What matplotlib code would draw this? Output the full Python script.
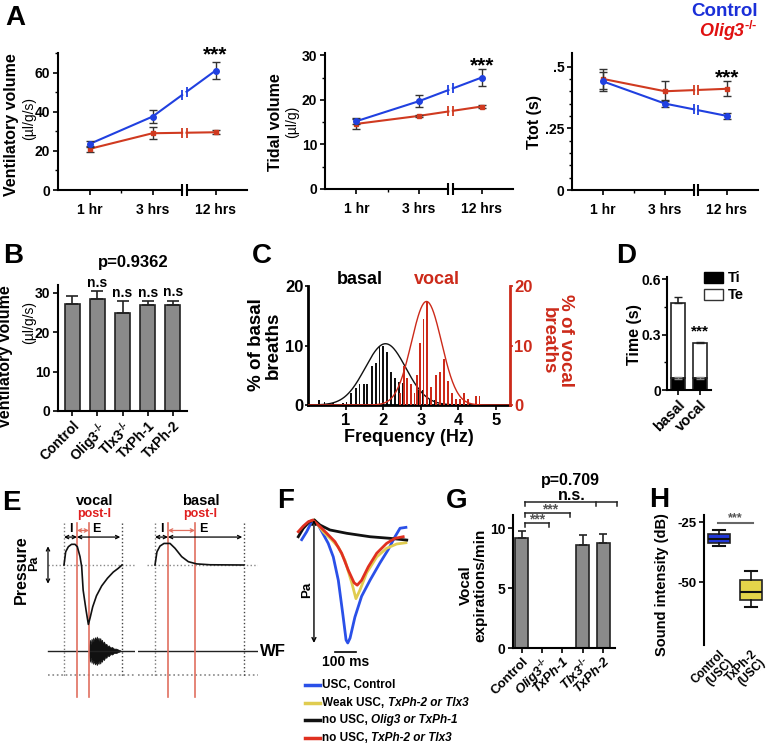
import matplotlib
matplotlib.use("Agg")
import matplotlib.pyplot as plt
import numpy as np
from matplotlib.patches import Patch

plt.rcParams['font.family'] = ['Liberation Sans', 'DejaVu Sans']
plt.rcParams['font.weight'] = 'bold'
plt.rcParams['axes.labelweight'] = 'bold'
plt.rcParams['mathtext.fontset'] = 'custom'
plt.rcParams['mathtext.rm'] = 'Liberation Sans:bold'
plt.rcParams['mathtext.it'] = 'Liberation Sans:italic:bold'
plt.rcParams['mathtext.bf'] = 'Liberation Sans:bold'
plt.rcParams['axes.linewidth'] = 1.5
plt.rcParams['xtick.major.width'] = 1.2
plt.rcParams['ytick.major.width'] = 1.2
plt.rcParams['ytick.minor.width'] = 1.0
plt.rcParams['xtick.minor.width'] = 1.0
plt.rcParams['xtick.major.size'] = 3.5
plt.rcParams['ytick.major.size'] = 3.5
plt.rcParams['ytick.minor.size'] = 2.5
plt.rcParams['ytick.major.pad'] = 2
plt.rcParams['xtick.major.pad'] = 2

BLUE = '#2040e0'
RED = '#d03a20'
KO = "$^{‐/‐}$"   # superscript -/- with plain hyphens

# ---- A: time course (1 hr, 3 hrs, 12 hrs) ----
times = [1, 2, 3]
time_labels = ["1 hr", "3 hrs", "12 hrs"]
vent_ctrl = [23.5, 37.5, 61.0]
vent_ctrl_err = [1.5, 3.5, 4.5]
vent_olig = [21.0, 29.0, 29.5]
vent_olig_err = [1.5, 3.0, 1.0]
tidal_ctrl = [15.2, 19.7, 25.0]
tidal_ctrl_err = [0.7, 1.3, 1.8]
tidal_olig = [14.6, 16.4, 18.5]
tidal_olig_err = [1.2, 0.3, 0.3]
ttot_ctrl = [0.44, 0.35, 0.30]
ttot_ctrl_err = [0.04, 0.015, 0.012]
ttot_olig = [0.45, 0.40, 0.41]
ttot_olig_err = [0.04, 0.04, 0.03]

# ---- B: ventilatory volume per genotype ----
b_groups = ["Control", "Olig3" + KO, "Tlx3" + KO, "TxPh-1", "TxPh-2"]
b_vals = [27.3, 28.4, 24.9, 26.8, 26.9]
b_err = [1.8, 2.0, 3.0, 1.1, 1.1]

# ---- C: frequency histograms (% of breaths) ----
basal_freq = [0.30, 0.44, 0.66, 0.93, 1.02, 1.15, 1.27, 1.37, 1.48, 1.57, 1.70, 1.80,
              1.90, 1.99, 2.10, 2.21, 2.32, 2.42, 2.52, 2.63, 2.75, 2.83, 2.94, 3.04,
              3.15, 3.25, 3.37, 3.50, 3.59]
basal_pct = [0.9, 0.5, 0.4, 0.4, 0.5, 2.0, 2.8, 3.6, 3.5, 3.5, 6.6, 7.1,
             9.9, 9.9, 8.9, 5.6, 4.5, 3.8, 3.7, 3.9, 2.0, 2.0, 2.5, 2.5,
             1.0, 1.0, 0.8, 0.4, 0.3]
vocal_freq = [2.45, 2.56, 2.64, 2.73, 2.83, 2.90, 2.97, 3.07, 3.17, 3.28, 3.41,
              3.52, 3.62, 3.72, 3.83, 3.94, 4.03, 4.14, 4.25, 4.47, 4.56]
vocal_pct = [2.0, 6.5, 4.5, 3.5, 2.0, 5.0, 10.5, 14.5, 17.5, 3.0, 5.0,
             5.5, 7.8, 4.0, 2.0, 1.0, 1.0, 2.0, 1.0, 1.5, 1.5]
basal_fit = (10.3, 2.06, 0.54)   # peak, mean, sd
vocal_fit = (17.4, 3.15, 0.40)

# ---- D: Ti / Te ----
d_groups = ["basal", "vocal"]
d_ti = [0.065, 0.065]
d_ti_err = [0.008, 0.008]
d_total = [0.47, 0.255]
d_total_err = [0.035, 0.005]

# ---- E: schematic traces (time a.u., pressure a.u.) ----
ev_t = [0, 2.9, 7.5, 13, 19, 23, 27.6, 30.5, 33, 38, 42, 45, 49.5, 56, 65, 75, 85, 93.6, 100]
ev_p = [0, 0.6, 0.83, 0.94, 0.94, 0.83, 0.38, -0.08, -1.14, -2.05, -2.7, -2.4, -1.9,
        -1.4, -0.95, -0.6, -0.32, -0.15, 0]
eb_t = [0, 3.4, 8.6, 15.5, 25.9, 34.5, 46, 57.5, 71.8, 95, 153]
eb_p = [0, 0.6, 0.86, 0.98, 0.98, 0.76, 0.38, 0.15, 0.05, 0.01, 0]
wf_t = [43, 44.5, 46, 47.5, 49, 50.5, 52, 53.5, 55, 56.5, 58, 59.5, 61, 62.5, 64, 65.5,
        67, 69, 71, 73, 75, 77, 80, 83, 86, 90, 94, 97]
wf_amp = [0.1, 0.5, 0.3, 0.55, 0.4, 0.6, 0.45, 0.62, 0.5, 0.65, 0.5, 0.6, 0.45, 0.58,
          0.42, 0.5, 0.35, 0.42, 0.28, 0.32, 0.2, 0.25, 0.15, 0.17, 0.1, 0.1, 0.05, 0.02]
ev_marks = [0, 22.4, 43.1, 100]     # onset, end I, end post-I, end E
eb_marks = [0, 22.4, 69, 153.4]

# ---- F: averaged pressure traces (ms, normalised pressure) ----
fb_t = [17.6, 41.4, 65.2, 77.6, 96.7, 144, 168, 192, 213, 229, 237, 248, 271, 303, 343, 390, 430, 462, 486, 514]
fb_p = [-0.16, -0.095, -0.014, 0, -0.041, -0.19, -0.30, -0.49, -0.76, -0.976, -1.0, -0.96,
        -0.79, -0.62, -0.49, -0.35, -0.24, -0.136, -0.067, -0.06]
fy_t = [78, 120, 160, 192, 224, 256, 276, 295, 327, 375, 422, 470, 514]
fy_p = [0, -0.095, -0.16, -0.22, -0.33, -0.51, -0.64, -0.57, -0.43, -0.30, -0.23, -0.195, -0.185]
fk_t = [1.4, 25, 54, 78, 105, 152, 232, 343, 438, 518]
fk_p = [-0.136, -0.068, -0.014, 0, -0.041, -0.081, -0.108, -0.136, -0.149, -0.163]
fr_t = [1.4, 25, 49, 70, 105, 137, 176, 208, 240, 267, 282, 303, 335, 375, 422, 462, 501]
fr_p = [-0.095, -0.05, -0.014, 0, -0.054, -0.108, -0.176, -0.27, -0.41, -0.51, -0.53,
        -0.49, -0.38, -0.27, -0.19, -0.149, -0.136]
f_legend = [("USC, Control", "", '#2a50e8'),
            ("Weak USC, ", "TxPh-2 or Tlx3", '#e0cc50'),
            ("no USC, ", "Olig3 or TxPh-1", '#111111'),
            ("no USC, ", "TxPh-2 or Tlx3", '#e03020')]

# ---- G: vocal expirations ----
g_groups = ["Control", "Olig3" + KO, "TxPh-1", "Tlx3" + KO, "TxPh-2"]
g_vals = [9.2, 0, 0, 8.6, 8.8]
g_err = [0.6, 0, 0, 0.8, 0.7]

# ---- H: sound intensity ----
h_groups = ["Control\n(USC)", "TxPh-2\n(USC)"]
h_med = [-32.0, -54.0]
h_q1 = [-33.8, -57.5]
h_q3 = [-30.0, -48.8]
h_lo = [-35.0, -60.4]
h_hi = [-28.3, -45.4]

W, H = 768, 744
fig = plt.figure(figsize=(W / 100, H / 100), dpi=100)


def box(l, t, r, b):
    return [l / W, 1 - b / H, (r - l) / W, (b - t) / H]


def ftext(x, y, s, **kw):
    return fig.text(x / W, 1 - y / H, s, **kw)


def clean(ax):
    ax.spines[['top', 'right']].set_visible(False)


# panel letters
for letter, (x, y) in {'A': (5, 5), 'B': (3, 243), 'C': (252, 243), 'D': (616, 243),
                       'E': (2, 490), 'F': (277, 488), 'G': (446, 488), 'H': (649, 487)}.items():
    ftext(x, y, letter, fontsize=20, fontweight='bold', va='top')

# ================= A =================
BREAK = [2.47, 2.54]


def time_panel(rect, ctrl, cerr, olig, oerr, ylim, major, labels, minor, star_y):
    ax = fig.add_axes(rect)
    for vals, errs, col, mk, ms in ((olig, oerr, RED, 's', 3.5), (ctrl, cerr, BLUE, 'o', 4)):
        yl = np.interp(BREAK[0], times, vals)
        yr = np.interp(BREAK[1], times, vals)
        ax.plot([times[0], times[1], BREAK[0]], [vals[0], vals[1], yl], color=col, lw=1.5)
        ax.plot([BREAK[1], times[2]], [yr, vals[2]], color=col, lw=1.5)
        ax.plot(BREAK, [yl, yr], ls='none', marker='|', ms=7, mew=1.3, color=col)
        ax.errorbar(times, vals, yerr=errs, fmt='none', ecolor='#333333', elinewidth=1,
                    capsize=3, capthick=1)
        ax.plot(times, vals, ls='none', marker=mk, ms=ms, color=col)
    ax.spines[['top', 'right', 'bottom']].set_visible(False)
    tr = ax.get_xaxis_transform()
    ax.plot([0.5, BREAK[0]], [0, 0], transform=tr, color='k', lw=1.5, clip_on=False)
    ax.plot([BREAK[1], 3.5], [0, 0], transform=tr, color='k', lw=1.5, clip_on=False)
    ax.plot(BREAK, [0, 0], transform=tr, ls='none', marker='|', ms=9, mew=1.5, color='k',
            clip_on=False)
    ax.set_xlim(0.5, 3.5)
    ax.set_ylim(*ylim)
    ax.set_xticks(times, time_labels, fontsize=10, fontweight='bold')
    ax.set_xticks([1.5], minor=True)
    ax.set_yticks(major, labels, fontsize=10, fontweight='bold')
    ax.set_yticks(minor, minor=True)
    ax.tick_params(axis='x', pad=6)
    ax.text(3, star_y, "***", ha='center', va='center', fontsize=15, clip_on=False)
    return ax


time_panel(box(58, 53, 247, 190), vent_ctrl, vent_ctrl_err, vent_olig, vent_olig_err,
           (0, 70), [0, 20, 40, 60], ["0", "20", "40", "60"], [10, 30, 50, 70], 69)
ftext(12, 125, "Ventilatory volume", rotation=90, ha='center', va='center', fontsize=11.5)
ftext(29, 118, "(µl/g/s)", rotation=90, ha='center', va='center', fontsize=10, fontweight='normal')

time_panel(box(325, 53, 513, 189), tidal_ctrl, tidal_ctrl_err, tidal_olig, tidal_olig_err,
           (0, 30.5), [0, 10, 20, 30], ["0", "10", "20", "30"], [5, 15, 25], 27.6)
ftext(276, 122, "Tidal volume", rotation=90, ha='center', va='center', fontsize=11.5)
ftext(292, 122, "(µl/g)", rotation=90, ha='center', va='center', fontsize=10, fontweight='normal')

time_panel(box(572, 53, 758, 190), ttot_ctrl, ttot_ctrl_err, ttot_olig, ttot_olig_err,
           (0, 0.555), [0, 0.25, 0.5], ["0", ".25", ".5"], np.arange(0.05, 0.55, 0.05), 0.455)
ftext(535, 122, "Ttot (s)", rotation=90, ha='center', va='center', fontsize=11.5)

ftext(758, 12, "Control", color='#1a2fd8', ha='right', va='center', fontsize=13.5, fontweight='bold')
ftext(758, 31, "Olig3" + KO, color='#e01010', ha='right', va='center', fontsize=13,
      fontweight='bold', fontstyle='italic')

# ================= B =================
axB = fig.add_axes(box(58, 285, 187, 411))
xb = np.arange(len(b_vals))
axB.bar(xb, b_vals, width=0.6, color='#8a8a8a', edgecolor='#222222', lw=1.2,
        yerr=[[0] * len(b_err), b_err], error_kw=dict(ecolor='#222222', elinewidth=1.2,
                                                       capsize=4, capthick=1.2))
for i in range(1, len(b_vals)):
    axB.text(xb[i], b_vals[i] + b_err[i] + 0.4, "n.s", ha='center', va='bottom', fontsize=10)
clean(axB)
axB.set_xlim(-0.56, 4.56)
axB.set_ylim(0, 32)
axB.set_yticks([0, 10, 20, 30], ["0", "10", "20", "30"], fontsize=10)
axB.set_xticks(xb, b_groups, rotation=45, ha='right', rotation_mode='anchor', fontsize=10)
ftext(133, 262, "p=0.9362", ha='center', va='center', fontsize=12)
ftext(6, 357, "Ventilatory volume", rotation=90, ha='center', va='center', fontsize=11.5)
ftext(29, 322, "(µl/g/s)", rotation=90, ha='center', va='center', fontsize=10, fontweight='normal')

# ================= C =================
CRED = '#cc2a1a'
axC = fig.add_axes(box(308, 286, 510, 405))
fx = np.linspace(0, 5.37, 300)
axC.bar(basal_freq, basal_pct, width=0.045, color='#111111')
axC.plot(fx, basal_fit[0] * np.exp(-(fx - basal_fit[1]) ** 2 / (2 * basal_fit[2] ** 2)),
         color='#111111', lw=1)
axC.set_xlim(0, 5.37)
axC.set_ylim(0, 20)
axC.set_yticks([0, 10, 20], ["0", "10", "20"], fontsize=12)
axC.set_xticks([1, 2, 3, 4, 5], ["1", "2", "3", "4", "5"], fontsize=12)
axC.tick_params(axis='y', length=2, pad=1)
axC.spines['top'].set_visible(False)
axC.spines['right'].set_visible(False)
axC2 = axC.twinx()
axC2.bar(vocal_freq, vocal_pct, width=0.05, color=CRED)
axC2.plot(fx, vocal_fit[0] * np.exp(-(fx - vocal_fit[1]) ** 2 / (2 * vocal_fit[2] ** 2)),
          color=CRED, lw=1)
axC2.set_ylim(0, 20)
axC2.set_yticks([0, 10, 20], ["0", "10", "20"], fontsize=12, color=CRED)
axC2.tick_params(axis='y', colors=CRED, length=2, pad=1)
axC2.spines[['top', 'left', 'bottom']].set_visible(False)
axC2.spines['right'].set_color(CRED)
axC2.spines['right'].set_linewidth(2)
axC.spines['left'].set_linewidth(2)
axC.spines['bottom'].set_linewidth(2)
axC.set_xlabel("Frequency (Hz)", fontsize=13, labelpad=1)
ftext(360, 280, "basal", ha='center', va='center', fontsize=13)
ftext(437, 280, "vocal", ha='center', va='center', fontsize=13, color=CRED)
ftext(265, 345, "% of basal\nbreaths", rotation=90, ha='center', va='center', fontsize=13.5,
      linespacing=1.0)
ftext(557, 341, "% of vocal\nbreaths", rotation=-90, ha='center', va='center', fontsize=13.5,
      linespacing=1.0, color=CRED)

# ================= D =================
axD = fig.add_axes(box(667, 277, 711, 390))
xd = np.arange(len(d_groups))
d_te = [t - i for t, i in zip(d_total, d_ti)]
axD.bar(xd, d_te, bottom=d_ti, width=0.6, color='white', edgecolor='#222222', lw=1.2,
        yerr=[[0, 0], d_total_err], error_kw=dict(ecolor='#222222', elinewidth=1.2, capsize=3))
axD.bar(xd, d_ti, width=0.6, color='black', edgecolor='#222222', lw=1.2,
        yerr=d_ti_err, error_kw=dict(ecolor='#888888', elinewidth=1, capsize=3))
axD.text(1, d_total[1] + d_total_err[1] + 0.02, "***", ha='center', va='bottom', fontsize=11)
clean(axD)
axD.set_xlim(-0.5, 1.5)
axD.set_ylim(0, 0.612)
axD.set_yticks([0, 0.3, 0.6], ["0", "0.3", "0.6"], fontsize=10)
axD.set_yticks([0.15, 0.45], minor=True)
axD.tick_params(axis='y', pad=1)
axD.set_xticks(xd, d_groups, rotation=45, ha='right', rotation_mode='anchor', fontsize=10.5)
ftext(635, 335, "Time (s)", rotation=90, ha='center', va='center', fontsize=11.5)
axD.legend([Patch(facecolor='black', edgecolor='black'), Patch(facecolor='white', edgecolor='#333333')],
           ["Ti", "Te"], loc='upper left', bbox_to_anchor=(697 / W, 1 - 264 / H),
           bbox_transform=fig.transFigure, frameon=False, fontsize=10.5, handlelength=1.3,
           handleheight=0.8, handletextpad=0.3, labelspacing=0.2, borderpad=0)

# ================= E =================
PX_T, PX_P = 0.58, 22.0   # px per time unit, px per pressure unit
ELRED = '#e07060'


def E_panel(x_left, x_right, t0_px, tr_t, tr_p, marks, title, base_px, wf_px):
    ax = fig.add_axes(box(x_left, 495, x_right, 700))
    tl, tr_ = (x_left - t0_px) / PX_T, (x_right - t0_px) / PX_T
    ax.set_xlim(tl, tr_)
    ax.set_ylim(-(700 - 565) / PX_P, (565 - 495) / PX_P)
    ax.axis('off')
    pwf, pbot, ptop, pred = -3.9, -5.0, 1.9, -6.0
    tb = (base_px - t0_px) / PX_T
    tw = (wf_px - t0_px) / PX_T
    ax.plot([tb, tr_], [0, 0], ls=':', color='#888888', lw=1)
    ax.plot([tw, tr_], [pbot, pbot], ls=':', color='#888888', lw=1.2)
    ax.plot([tw, tr_], [pwf, pwf], color='#222222', lw=1)
    ax.plot([marks[0]] * 2, [ptop, pbot - 0.1], ls=':', color='#777777', lw=1)
    ax.plot([marks[3]] * 2, [ptop, pbot - 0.1], ls=':', color='#444444', lw=1)
    for m in marks[1:3]:
        ax.plot([m, m], [ptop, pred], color=ELRED, lw=1.2)
    ax.plot(tr_t, tr_p, color='#111111', lw=1.2)
    pa = 1.27
    arrow = dict(arrowstyle='<->', lw=0.9, shrinkA=0, shrinkB=0, mutation_scale=6)
    ax.annotate('', xy=(marks[1], pa), xytext=(marks[0], pa), arrowprops=dict(color='k', **arrow))
    ax.annotate('', xy=(marks[3] - 3, pa), xytext=(marks[1], pa), arrowprops=dict(color='k', **arrow))
    ax.annotate('', xy=(marks[2], pa + 0.3), xytext=(marks[1], pa + 0.3),
                arrowprops=dict(color=ELRED, **arrow))
    mid = (marks[0] + marks[3]) / 2
    ax.text(mid + 2, 2.9, title, ha='center', va='center', fontsize=10.5)
    ax.text(mid + 2, 2.3, "post-I", ha='center', va='center', fontsize=9, color='#e02020')
    ax.text((marks[0] + marks[1]) / 2, 1.62, "I", ha='center', va='center', fontsize=9)
    ax.text((marks[1] + marks[3]) / 2 - 5, 1.62, "E", ha='center', va='center', fontsize=9)
    return ax


axEv = E_panel(10, 135, 64, ev_t, ev_p, ev_marks, "vocal", 48, 48)
axEv.fill_between(wf_t, [-3.9 - a for a in wf_amp], [-3.9 + a for a in wf_amp],
                  color='#111111', lw=0.5)
axEv.annotate('', xy=(-27.6, -0.85), xytext=(-27.6, 0.85),
              arrowprops=dict(arrowstyle='<->', lw=0.9, color='k', shrinkA=0, shrinkB=0,
                              mutation_scale=6))
axEb = E_panel(138, 258, 155, eb_t, eb_p, eb_marks, "basal", 147, 138)
ftext(273, 651, "WF", ha='center', va='center', fontsize=12)
ftext(21, 570, "Pressure", rotation=90, ha='center', va='center', fontsize=11.5)
ftext(34, 563, "Pa", rotation=90, ha='center', va='center', fontsize=9)

# ================= F =================
axF = fig.add_axes(box(290, 505, 412, 672))
axF.set_xlim(-38.1, 543)
axF.set_ylim(-1.236, 0.122)
axF.axis('off')
axF.plot(fb_t, fb_p, color=f_legend[0][2], lw=2)
axF.plot(fy_t, fy_p, color=f_legend[1][2], lw=2)
axF.plot(fk_t, fk_p, color=f_legend[2][2], lw=2)
axF.plot(fr_t, fr_p, color=f_legend[3][2], lw=2)
axF.annotate('', xy=(76, -1.0), xytext=(76, 0),
             arrowprops=dict(arrowstyle='<->', lw=1, color='k', shrinkA=0, shrinkB=0,
                             mutation_scale=7))
axF.text(42, -0.57, "Pa", rotation=90, ha='center', va='center', fontsize=9.5)
axF.plot([176, 276], [-1.07, -1.07], color='k', lw=1.2)
axF.text(226, -1.1, "100 ms", ha='center', va='top', fontsize=10)

axFL = fig.add_axes(box(300, 676, 470, 744))
axFL.set_xlim(300, 470)
axFL.set_ylim(744, 676)
axFL.axis('off')
for k, (plain, ital, col) in enumerate(f_legend):
    yy = 685 + 17.7 * k
    axFL.plot([305, 320], [yy, yy], color=col, lw=2.5)
    t1 = axFL.text(322, yy, plain, ha='left', va='center', fontsize=8.5)
    if ital:
        axFL.annotate(ital, xy=(1, 0), xycoords=t1, ha='left', va='bottom', fontsize=8.5,
                      fontstyle='italic')

# ================= G =================
axG = fig.add_axes(box(513, 515, 615, 648))
xg = np.arange(len(g_vals))
axG.bar(xg, g_vals, width=0.64, color='#8a8a8a', edgecolor='#222222', lw=1.2,
        yerr=[[0] * len(g_err), g_err], error_kw=dict(ecolor='#222222', elinewidth=1.2,
                                                       capsize=3, capthick=1.2))
clean(axG)
axG.set_xlim(-0.44, 4.59)
axG.set_ylim(0, 11.1)
axG.set_yticks([0, 5, 10], ["0", "5", "10"], fontsize=10)
axG.set_xticks(xg, g_groups, rotation=45, ha='right', rotation_mode='anchor', fontsize=9.5)
for i, lab in enumerate(axG.get_xticklabels()):
    if i > 0:
        lab.set_fontstyle('italic')
for y0, x1, ticks in ((12.17, 4.69, [0.15, 3.65, 4.69]), (11.25, 2.37, [0.15, 2.37]),
                      (10.42, 1.33, [0.15, 1.33])):
    axG.plot([0.15, x1], [y0, y0], color='#222222', lw=1.1, clip_on=False)
    for tk in ticks:
        axG.plot([tk, tk], [y0, y0 - 0.3], color='#222222', lw=1.1, clip_on=False)
axG.text(1.4, 11.55, "***", ha='center', va='center', fontsize=10, color='#555555', clip_on=False)
axG.text(0.75, 10.7, "***", ha='center', va='center', fontsize=10, color='#555555', clip_on=False)
ftext(570, 481, "p=0.709", ha='center', va='center', fontsize=11.5)
ftext(572, 495, "n.s.", ha='center', va='center', fontsize=11.5)
ftext(473, 585, "Vocal\nexpirations/min", rotation=90, ha='center', va='center', fontsize=11,
      linespacing=1.0)

# ================= H =================
axH = fig.add_axes(box(704, 515, 765, 645))
stats = [dict(med=m, q1=a, q3=b, whislo=lo, whishi=hi, label=g)
         for m, a, b, lo, hi, g in zip(h_med, h_q1, h_q3, h_lo, h_hi, h_groups)]
bp = axH.bxp(stats, positions=[0, 1], widths=0.69, showfliers=False, patch_artist=True,
             boxprops=dict(lw=1.2, edgecolor='#222222'),
             medianprops=dict(color='#111111', lw=1.5),
             whiskerprops=dict(color='#111111', lw=1.2),
             capprops=dict(color='#111111', lw=1.5), capwidths=0.35)
for patch, col in zip(bp['boxes'], ['#2238d8', '#e4d44a']):
    patch.set_facecolor(col)
clean(axH)
axH.spines['bottom'].set_visible(False)
axH.tick_params(axis='x', length=0)
axH.set_xlim(-0.47, 1.44)
axH.set_ylim(-76, -22)
axH.set_yticks([-25, -50], ["-25", "-50"], fontsize=9.5)
axH.set_xticks([0, 1], h_groups, rotation=45, ha='right', rotation_mode='anchor', fontsize=8.5,
               linespacing=1.0)
axH.plot([-0.03, 1.06], [-25.4, -25.4], color='#666666', lw=1.5, clip_on=False)
axH.text(0.5, -23.5, "***", ha='center', va='center', fontsize=9, color='#555555', clip_on=False)
ftext(662, 585, "Sound intensity (dB)", rotation=90, ha='center', va='center', fontsize=10.5)

fig.savefig("out.png", dpi=100)
